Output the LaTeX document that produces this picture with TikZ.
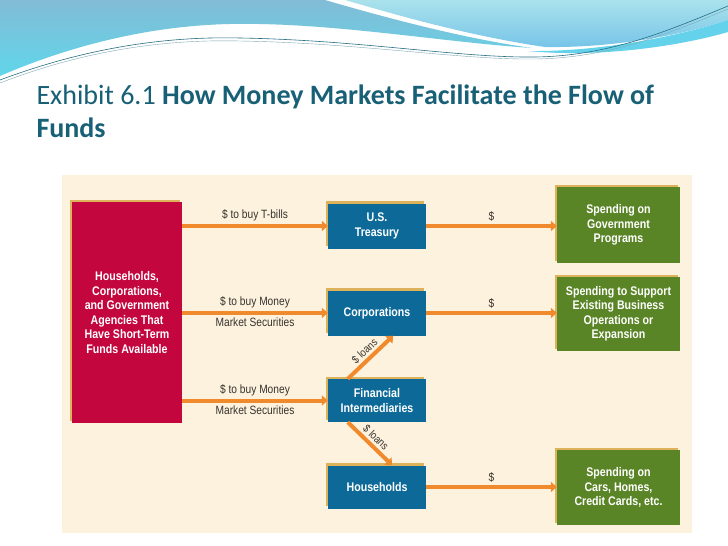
\documentclass[tikz,border=0pt]{standalone}
\usepackage{fontspec}
\setmainfont{Carlito}
\newfontfamily\boxfont[FakeStretch=0.85]{Liberation Sans}
\usetikzlibrary{arrows.meta,shadows}
\definecolor{titlec}{RGB}{24,96,118}
\definecolor{panelc}{RGB}{253,242,222}
\definecolor{redc}{RGB}{196,6,63}
\definecolor{bluec}{RGB}{13,106,152}
\definecolor{greenc}{RGB}{90,133,38}
\definecolor{flowc}{RGB}{240,138,44}
\definecolor{tanc}{RGB}{221,178,90}
\definecolor{labelc}{RGB}{55,50,45}
\definecolor{wavea}{RGB}{130,188,214}
\definecolor{waveb}{RGB}{96,214,234}
\definecolor{wavec}{RGB}{170,226,236}
\definecolor{waved}{RGB}{118,196,232}
\definecolor{linec}{RGB}{40,110,130}

\begin{document}
\begin{tikzpicture}[x=1pt,y=-1pt,
	box/.style={inner sep=2pt,align=center,text=white,font=\boxfont\bfseries\fontsize{12.5}{14.5}\selectfont,general shadow={fill=tanc,shadow xshift=-2.5pt,shadow yshift=2.5pt}},
	srcbox/.style={box,fill=redc,minimum width=110pt,minimum height=221pt},
	midbox/.style={box,fill=bluec,minimum width=98pt,minimum height=45pt},
	endbox/.style={box,fill=greenc,minimum width=123pt,minimum height=75pt},
	flow/.style={draw=flowc,line width=4pt,-{Triangle[length=6pt,width=10pt]}},
	lbl/.style={inner sep=3pt,text=labelc,font=\boxfont\fontsize{12}{14}\selectfont},
	loanlbl/.style={lbl,inner sep=2pt,font=\boxfont\fontsize{11}{13}\selectfont,anchor=south}]
	\useasboundingbox (0,0) rectangle (728,546);
	\fill[white] (0,0) rectangle (728,546);
	\shade[top color=wavea,bottom color=waveb] (0,0) -- (325,0) .. controls (380,16) and (460,38) .. (532,48) .. controls (440,42) and (330,22) .. (230,24) .. controls (140,26) and (60,50) .. (0,76) -- cycle;
	\shade[top color=wavec,bottom color=waved] (345,0) -- (728,0) -- (728,20) .. controls (680,36) and (610,48) .. (545,47) .. controls (470,36) and (400,16) .. (345,0) -- cycle;
	\fill[waveb!80!waved] (528,51) .. controls (600,52) and (680,36) .. (728,20) -- (728,32) .. controls (680,46) and (600,58) .. (528,51) -- cycle;
	\draw[linec,line width=0.6pt] (0,80) .. controls (80,50) and (160,36) .. (240,38) .. controls (360,40) and (460,58) .. (535,57) .. controls (610,56) and (670,30) .. (728,6);
	\draw[linec!60,line width=0.4pt] (0,83) .. controls (80,52) and (160,39) .. (240,41) .. controls (360,43) and (460,60) .. (535,59) .. controls (610,58) and (670,33) .. (728,9);
	\node[anchor=north west,align=left,text=titlec,font=\fontsize{28}{33}\selectfont] (title) at (33,81) {Exhibit 6.1 \textbf{How Money Markets Facilitate the Flow of}\\\textbf{Funds}};
	\fill[panelc] (62,175) rectangle (692,533);
	\node[srcbox] (funds) at (127,312.5) {Households,\\Corporations,\\and Government\\Agencies That\\Have Short-Term\\Funds Available};
	\node[midbox] (treas) at (377,226) {U.S.\\Treasury};
	\node[midbox] (corp) at (377,313) {Corporations};
	\node[midbox,minimum height=43pt] (fin) at (377,400.5) {Financial\\Intermediaries};
	\node[midbox,minimum height=43pt] (house) at (377,487) {Households};
	\node[endbox,minimum height=76pt] (gov) at (618.5,225) {Spending on\\Government\\Programs};
	\node[endbox,minimum height=74pt] (biz) at (618.5,314) {Spending to Support\\Existing Business\\Operations or\\Expansion};
	\node[endbox] (cars) at (618.5,487.5) {Spending on\\Cars, Homes,\\Credit Cards, etc.};
	\draw[flow] (funds.east |- treas.west) -- node[lbl,above] {\$ to buy T-bills} (treas.west);
	\draw[flow] (funds.east |- corp.west) -- node[lbl,above] {\$ to buy Money} node[lbl,below] {Market Securities} (corp.west);
	\draw[flow] (funds.east |- fin.west) -- node[lbl,above] {\$ to buy Money} node[lbl,below] {Market Securities} (fin.west);
	\draw[flow] (treas.east) -- node[lbl,above] {\$} (treas.east -| gov.west);
	\draw[flow] (corp.east) -- node[lbl,above] {\$} (corp.east -| biz.west);
	\draw[flow] (house.east) -- node[lbl,above] {\$} (house.east -| cars.west);
	\draw[flow] ([xshift=20pt]fin.north west) -- node[loanlbl,rotate=43] {\$ loans} ([xshift=-33pt]corp.south east);
	\draw[flow] ([xshift=20pt]fin.south west) -- node[loanlbl,rotate=-44] {\$ loans} ([xshift=-34pt]house.north east);
\end{tikzpicture}
\end{document}
